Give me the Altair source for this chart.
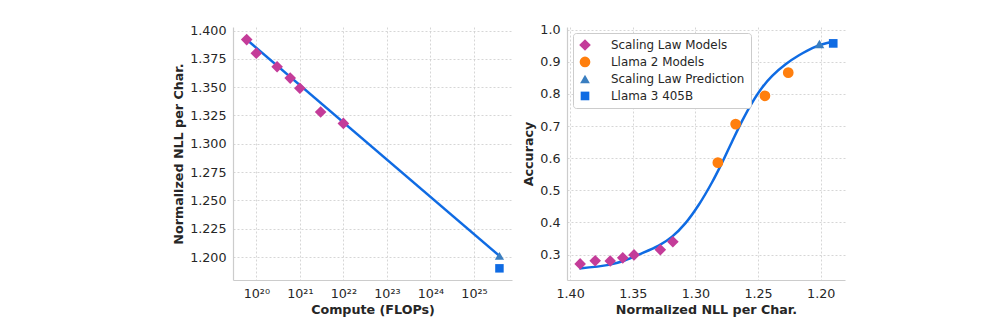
import altair as alt
import pandas as pd

# ---------------- data ----------------
sl_compute = [6e19, 1e20, 3e20, 6e20, 1e21, 3e21, 1e22]
sl_nll = [1.392, 1.380, 1.368, 1.358, 1.349, 1.328, 1.318]
sl_acc = [0.271, 0.281, 0.280, 0.290, 0.299, 0.315, 0.340]

l2_nll = [1.2821, 1.2679, 1.2445, 1.2259]
l2_acc = [0.586, 0.706, 0.794, 0.866]

pred_compute = [3.85e25]
pred_nll = [1.201]
pred_acc = [0.955]

l3_compute = [3.85e25]
l3_nll = [1.190]
l3_acc = [0.957]

# fitted line (left) read at its end points
fit_compute = [6e19, 3.85e25]
fit_nll = [1.392, 1.201]

# fitted sigmoid (right)
curve_nll = [1.3926, 1.3692, 1.3570, 1.3452, 1.3293, 1.3186, 1.3079, 1.2973,
             1.2867, 1.2787, 1.2707, 1.2627, 1.2547, 1.2467, 1.2387, 1.2280,
             1.2173, 1.2040, 1.1907]
curve_acc = [0.257, 0.268, 0.281, 0.300, 0.328, 0.356, 0.398, 0.455,
             0.525, 0.586, 0.652, 0.716, 0.773, 0.820, 0.856, 0.892,
             0.920, 0.947, 0.962]

x_ticks_log = [1e20, 1e21, 1e22, 1e23, 1e24, 1e25]
x_tick_labels = ["10²⁰", "10²¹", "10²²", "10²³", "10²⁴", "10²⁵"]
y_ticks_left = [1.200, 1.225, 1.250, 1.275, 1.300, 1.325, 1.350, 1.375, 1.400]
x_ticks_right = [1.40, 1.35, 1.30, 1.25, 1.20]
y_ticks_right = [0.3, 0.4, 0.5, 0.6, 0.7, 0.8, 0.9, 1.0]

series = ["Scaling Law Models", "Llama 2 Models", "Scaling Law Prediction", "Llama 3 405B"]
colors = ["#c43c99", "#ff7f0e", "#3a7ec0", "#0f6be3"]
shapes = ["diamond", "circle", "triangle-up", "square"]
sizes = [135, 75, 85, 72]
LINE_COLOR = "#0f6be3"

FONT = "DejaVu Sans"
TXT = "#262626"
FS = 12.7

# ---------------- left panel ----------------
x_left_dom = [2.91e19, 7.48e25]
y_left_dom = [1.1797, 1.4031]

label_expr = "[" + ",".join("'%s'" % s for s in x_tick_labels) + "][round(log(datum.value)/LN10)-20]"

xl = alt.X("compute:Q",
           scale=alt.Scale(type="log", domain=x_left_dom, nice=False),
           axis=alt.Axis(values=x_ticks_log, labelExpr=label_expr, title="Compute (FLOPs)"))
yl = alt.Y("nll:Q",
           scale=alt.Scale(domain=y_left_dom, nice=False, zero=False),
           axis=alt.Axis(values=y_ticks_left, format=".3f", title="Normalized NLL per Char."))

fit_df = pd.DataFrame({"compute": fit_compute, "nll": fit_nll})
sl_df = pd.DataFrame({"compute": sl_compute, "nll": sl_nll})
pred_df = pd.DataFrame({"compute": pred_compute, "nll": pred_nll})
l3_df = pd.DataFrame({"compute": l3_compute, "nll": l3_nll})

left_line = alt.Chart(fit_df).mark_line(color=LINE_COLOR, strokeWidth=2.5).encode(x=xl, y=yl)
left_sl = alt.Chart(sl_df).mark_point(shape="diamond", filled=True, opacity=1, size=sizes[0], color=colors[0]).encode(x=xl, y=yl)
left_pred = alt.Chart(pred_df).mark_point(shape="triangle-up", filled=True, opacity=1, size=sizes[2], color=colors[2]).encode(x=xl, y=yl)
left_l3 = alt.Chart(l3_df).mark_point(shape="square", filled=True, opacity=1, size=sizes[3], color=colors[3]).encode(x=xl, y=yl)

left = alt.layer(left_line, left_sl, left_pred, left_l3).properties(width=279, height=253)

# ---------------- right panel ----------------
x_right_dom = [1.1806, 1.4025]
y_right_dom = [0.221, 1.008]

xr = alt.X("nll:Q",
           scale=alt.Scale(domain=x_right_dom, reverse=True, nice=False, zero=False),
           axis=alt.Axis(values=x_ticks_right, format=".2f", title="Normalized NLL per Char."))
yr = alt.Y("acc:Q",
           scale=alt.Scale(domain=y_right_dom, nice=False, zero=False),
           axis=alt.Axis(values=y_ticks_right, format=".1f", title="Accuracy"))

curve_df = pd.DataFrame({"nll": curve_nll, "acc": curve_acc})
pts = pd.concat([
    pd.DataFrame({"nll": sl_nll, "acc": sl_acc, "series": series[0]}),
    pd.DataFrame({"nll": l2_nll, "acc": l2_acc, "series": series[1]}),
    pd.DataFrame({"nll": pred_nll, "acc": pred_acc, "series": series[2]}),
    pd.DataFrame({"nll": l3_nll, "acc": l3_acc, "series": series[3]}),
], ignore_index=True)

right_line = alt.Chart(curve_df).mark_line(color=LINE_COLOR, strokeWidth=2.5, interpolate="catmull-rom").encode(x=xr, y=yr)

legend = alt.Legend(title=None, orient="top-left", offset=6, fillColor="white",
                    strokeColor="#cccccc", cornerRadius=3, padding=6,
                    labelFontSize=11.9, labelFont=FONT, labelColor=TXT,
                    labelOffset=20, rowPadding=4, symbolSize=100, symbolStrokeWidth=0)

right_pts = alt.Chart(pts).mark_point(filled=True, opacity=1).encode(
    x=xr, y=yr,
    color=alt.Color("series:N", scale=alt.Scale(domain=series, range=colors), legend=legend),
    shape=alt.Shape("series:N", scale=alt.Scale(domain=series, range=shapes), legend=legend),
    size=alt.Size("series:N", scale=alt.Scale(domain=series, range=sizes), legend=None),
)

right = alt.layer(right_line, right_pts).properties(width=278, height=253)

chart = alt.hconcat(left, right, spacing=10).resolve_legend(
    color="independent", shape="independent", size="independent"
).resolve_scale(
    color="independent", shape="independent", size="independent"
).properties(
    padding={"left": 172, "top": 23, "right": 5, "bottom": 5}
).configure_view(stroke=None).configure_axis(
    labelFont=FONT, labelFontSize=FS, labelColor=TXT,
    titleFont=FONT, titleFontSize=FS, titleFontWeight="bold", titleColor=TXT,
    gridColor="#cccccc", gridDash=[2, 2], gridWidth=0.8,
    domainColor="#cccccc", domainWidth=1.2,
    ticks=False, tickSize=0, labelPadding=7, titlePadding=4,
)

chart.save("out.html", embed_options={"renderer": "svg", "actions": False})
